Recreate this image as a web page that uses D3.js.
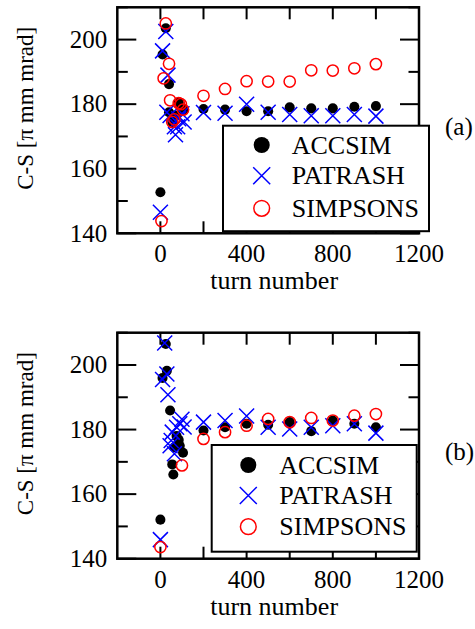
<!DOCTYPE html>
<html><head><meta charset="utf-8">
<script src="https://cdn.jsdelivr.net/npm/d3@7"></script>
<style>body{margin:0;background:#fff}svg{display:block}</style>
</head><body>
<script>
const seriesNames = ["ACCSIM", "PATRASH", "SIMPSONS"];
const xTickLabels = [0, 400, 800, 1200];
const yTickLabels = [140, 160, 180, 200];
const panelLabels = ["(a)", "(b)"];

const accsimA = [[0,152.7],[10,195.4],[25,203.5],[40,186.2],[40,177.5],[55,174.5],[70,176.5],[85,180.5],[100,178.3],[110,178.3],[200,178.5],[300,178.3],[400,177.8],[500,177.8],[600,179],[700,178.7],[800,178.7],[900,179.2],[1000,179.4]];
const patrashA = [[0,146.5],[10,196.5],[25,202.5],[35,189],[30,177.5],[45,176.5],[65,173],[70,170.5],[80,173],[85,175.5],[100,177],[110,174.5],[200,177.4],[300,177.2],[400,180],[500,177.5],[600,176.8],[700,176.4],[800,176.4],[900,176.8],[1000,176.3]];
const simpsonsA = [[5,143.8],[25,205],[15,188],[40,192.5],[45,181.2],[55,174.5],[65,175.3],[85,180.3],[95,180],[105,178.3],[200,182.6],[300,184.7],[400,187.1],[500,187],[600,187],[700,190.5],[800,190.4],[900,191.1],[1000,192.4]];

const accsimB = [[0,152.1],[10,196],[25,206.5],[30,198.2],[45,185.9],[55,169.2],[60,166.1],[65,174.5],[75,178],[85,176.8],[90,175],[105,172.8],[200,179.7],[300,180.7],[400,181.8],[500,181.5],[600,182.3],[700,179.5],[800,182.8],[900,181.8],[1000,180.7]];
const patrashB = [[0,145.9],[10,195.5],[20,206.8],[30,197.2],[35,190.8],[45,175],[50,176.6],[55,179.2],[65,172.5],[75,180.7],[90,181.8],[100,183.2],[110,180.8],[200,182.3],[300,182.8],[400,184.2],[500,180.7],[600,180.2],[700,180.7],[800,181.2],[900,181.8],[1000,178.9]];
const simpsonsB = [[0,143.6],[100,168.9],[200,177.1],[300,179.2],[400,181.2],[500,183.3],[600,182.3],[700,183.6],[800,182.8],[900,184.3],[1000,184.8]];

const W = 475, H = 629;
const FONT = "'Times New Roman', Tinos, 'Liberation Serif', 'DejaVu Serif', serif";
const svg = d3.select("body").append("svg").attr("width", W).attr("height", H)
  .attr("font-family", FONT).style("font-family", FONT);

const panels = [
  {top: 7.3, data: [accsimA, patrashA, simpsonsA], label: panelLabels[0], legend: {x: 223, y: 125.7, w: 206, h: 105.5, sx: 261.7, tx: 291.7, rows: [145, 175.7, 208.3]}},
  {top: 332.7, data: [accsimB, patrashB, simpsonsB], label: panelLabels[1], legend: {x: 211.7, y: 445, w: 205, h: 106.7, sx: 248.3, tx: 279.3, rows: [465, 495.5, 526.7]}}
];

function drawMarker(g, type, x, y, s) {
  if (type === 0) {
    g.append("circle").attr("cx", x).attr("cy", y).attr("r", s * 0.67).attr("fill", "#000");
  } else if (type === 1) {
    g.append("path").attr("d", `M${x-s},${y-s}L${x+s},${y+s}M${x-s},${y+s}L${x+s},${y-s}`)
      .attr("stroke", "#0000ff").attr("stroke-width", 1.5).attr("fill", "none");
  } else {
    g.append("circle").attr("cx", x).attr("cy", y).attr("r", s * 0.75).attr("fill", "none")
      .attr("stroke", "#ff0000").attr("stroke-width", 1.5);
  }
}

function txt(g) {
  return g.append("text").attr("font-family", FONT).style("font-family", FONT).attr("fill", "#000");
}

panels.forEach(p => {
  const left = 117.3, right = 419, top = p.top, bottom = p.top + 226;
  const x = d3.scaleLinear().domain([-200, 1200]).range([left, right]);
  const y = d3.scaleLinear().domain([140, 210]).range([bottom, top]);
  const g = svg.append("g");

  const xt = d3.range(0, 1201, 200);
  xt.forEach(v => {
    g.append("line").attr("x1", x(v)).attr("x2", x(v)).attr("y1", bottom).attr("y2", bottom - 12).attr("stroke", "#000").attr("stroke-width", 2);
    g.append("line").attr("x1", x(v)).attr("x2", x(v)).attr("y1", top).attr("y2", top + 12).attr("stroke", "#000").attr("stroke-width", 2);
  });
  const yt = d3.range(140, 211, 10);
  yt.forEach(v => {
    const len = (v % 20 === 0) ? 19 : 10.5;
    g.append("line").attr("x1", left).attr("x2", left + len).attr("y1", y(v)).attr("y2", y(v)).attr("stroke", "#000").attr("stroke-width", 2);
    g.append("line").attr("x1", right).attr("x2", right - len).attr("y1", y(v)).attr("y2", y(v)).attr("stroke", "#000").attr("stroke-width", 2);
  });
  g.append("rect").attr("x", left).attr("y", top).attr("width", right - left).attr("height", bottom - top)
    .attr("fill", "none").attr("stroke", "#000").attr("stroke-width", 2.5);

  xTickLabels.forEach(v => {
    txt(g).attr("x", x(v)).attr("y", bottom + 29).attr("text-anchor", "middle").attr("font-size", 25).text(v);
  });
  yTickLabels.forEach(v => {
    txt(g).attr("x", left - 10).attr("y", y(v)).attr("dy", "0.33em").attr("text-anchor", "end").attr("font-size", 25).text(v);
  });
  txt(g).attr("x", (left + right) / 2 + 6).attr("y", bottom + 56).attr("text-anchor", "middle").attr("font-size", 26).text("turn number");
  txt(g).attr("transform", `translate(33,${top + 101}) rotate(-90)`).attr("text-anchor", "middle").attr("font-size", 23).text("C-S [π mm mrad]");
  txt(g).attr("x", 445).attr("y", top + 127.5).attr("font-size", 25).text(p.label);

  p.data.forEach((ser, i) => {
    const sg = g.append("g");
    ser.forEach(d => drawMarker(sg, i, x(d[0]), y(d[1]), 7.5));
  });

  const L = p.legend;
  g.append("rect").attr("x", L.x).attr("y", L.y).attr("width", L.w).attr("height", L.h)
    .attr("fill", "#fff").attr("stroke", "#000").attr("stroke-width", 2);
  seriesNames.forEach((n, i) => {
    drawMarker(g, i, L.sx, L.rows[i], i === 0 ? 12 : (i === 2 ? 10.5 : 8.5));
    txt(g).attr("x", L.tx).attr("y", L.rows[i]).attr("dy", "0.33em").attr("font-size", 26).text(n);
  });
});
</script>
</body></html>
